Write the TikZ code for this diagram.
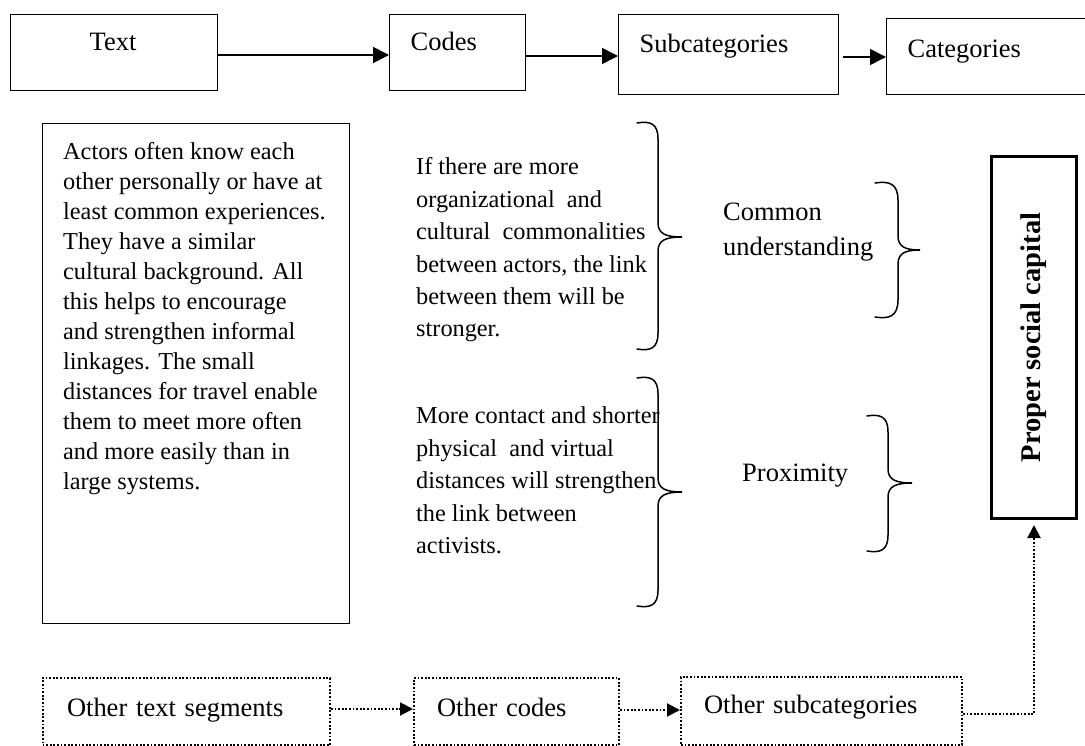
\documentclass[tikz,border=0pt]{standalone}
\usepackage{fontspec}
\setmainfont{Liberation Serif}
\usepackage{graphicx}
\usetikzlibrary{arrows.meta}
\newcommand\lblfont{\fontsize{26.5}{32}\selectfont}
\newcommand\bodyA{\fontsize{24.3}{30}\selectfont}
\newcommand\bodyB{\fontsize{24.3}{32.4}\selectfont}
\newcommand\cuFont{\fontsize{26.5}{35}\selectfont}
% #1 stem x, #2 top y, #3 bottom y, #4 tip y, #5 hook width, #6 tip width
\newcommand\mybrace[6]{%
  \draw[bracestyle] (#1-#5,#2+1) .. controls (#1-0.4*#5,#2-1) and (#1,#2+1) .. (#1,#2+0.8*#5)
    -- (#1,#4-14) .. controls (#1,#4-3) and (#1+0.35*#6,#4) .. (#1+#6,#4)
    .. controls (#1+0.35*#6,#4) and (#1,#4+3) .. (#1,#4+14)
    -- (#1,#3-0.8*#5) .. controls (#1,#3-1) and (#1-0.4*#5,#3+1) .. (#1-#5,#3-1);}
\tikzset{
  topbox/.style={draw, line width=1.3pt, inner sep=0pt, anchor=north west, font=\lblfont, align=left},
  dotbox/.style={draw, line width=2pt, dash pattern=on 1.8pt off 1.8pt, inner sep=0pt, anchor=north west, font=\lblfont, align=left},
  arr/.style={line width=1.6pt, -{Triangle[length=16pt,width=16pt]}},
  dotarr/.style={line width=2pt, dash pattern=on 1.8pt off 1.8pt, -{Triangle[length=13pt,width=13pt]}},
  bodytext/.style={inner sep=0pt, anchor=north west, align=left},
  bracestyle/.style={line width=1.5pt, line cap=round},
}
\begin{document}
\begin{tikzpicture}[x=1pt,y=-1pt]
\useasboundingbox (0,0) rectangle (1085,746);
\clip (0,0) rectangle (1085,746);
% top row
\node[topbox, text width=207pt, text height=36.1pt, text depth=39.9pt] (text) at (10,14) {\hspace*{79pt}Text};
\node[topbox, text width=136pt, text height=36.1pt, text depth=39.9pt] (codes) at (389,14) {\hspace*{21pt}Codes};
\node[topbox, text width=220pt, text height=37.6pt, text depth=42.4pt] (subcat) at (618,14) {\hspace*{21pt}Subcategories};
\node[topbox, text width=214pt, text height=38.7pt, text depth=37.3pt] (cat) at (886,18) {\hspace*{21pt}Categories};
\draw[arr] (text.east |- 0,55) -- (codes.west |- 0,55);
\draw[arr] (codes.east |- 0,56) -- (subcat.west |- 0,56);
\draw[arr, shorten <=4pt] (subcat.east |- 0,57) -- (cat.west |- 0,57);
% left box
\node[draw, line width=1.3pt, inner sep=0pt, anchor=north west, minimum width=307pt, minimum height=500pt] (leftbox) at (42,123) {};
\node[bodytext, font=\bodyA] (actors) at (63,138) {\strut Actors often know each\\
other personally or have at\\
least common experiences.\\
They have a similar\\
cultural background. All\\
this helps to encourage\\
and strengthen informal\\
linkages. The small\\
distances for travel enable\\
them to meet more often\\
and more easily than in\\
large systems.};
% middle texts
\node[bodytext, font=\bodyB] (ifthere) at (416,152) {\strut If there are more\\
organizational\ \ and\\
cultural\ \ commonalities\\
between actors, the link\\
between them will be\\
stronger.};
\node[bodytext, font=\bodyB] (morecontact) at (416,401) {\strut More contact and shorter\\
physical\ \ and virtual\\
distances will strengthen\\
the link between\\
activists.};
\mybrace{658}{122}{350}{237}{21}{24}
\mybrace{658}{377}{607}{492}{21}{24}
% subcategories
\node[bodytext, font=\cuFont] (common) at (723,195.5) {\strut Common\\understanding};
\node[inner sep=0pt, anchor=base west, font=\lblfont] (prox) at (742,481.5) {Proximity};
\mybrace{898}{182}{318}{250}{23}{22}
\mybrace{888}{415}{552}{483}{21}{24}
% category
\node[draw, line width=3pt, inner sep=0pt, anchor=north west, minimum width=85pt, minimum height=362pt] (proper) at (990,155) {\rotatebox{90}{\fontsize{28.5}{32}\selectfont\bfseries Proper social capital}};
% bottom row
\node[dotbox, text width=287.5pt, text height=38.1pt, text depth=28.9pt] (ots) at (41.5,677) {\hspace*{24.5pt}Other text segments};
\node[dotbox, text width=205pt, text height=38.1pt, text depth=28.9pt] (oc) at (413,677) {\hspace*{23pt}Other codes};
\node[dotbox, text width=281pt, text height=36.1pt, text depth=31.9pt] (osc) at (680,676) {\hspace*{23pt}Other subcategories};
\draw[dotarr] (ots.east |- 0,709) -- (oc.west |- 0,709);
\draw[dotarr] (oc.east |- 0,710) -- (osc.west |- 0,710);
\draw[dotarr, shorten >=5pt] (osc.east |- 0,714) -| (proper.south);
\end{tikzpicture}
\end{document}
